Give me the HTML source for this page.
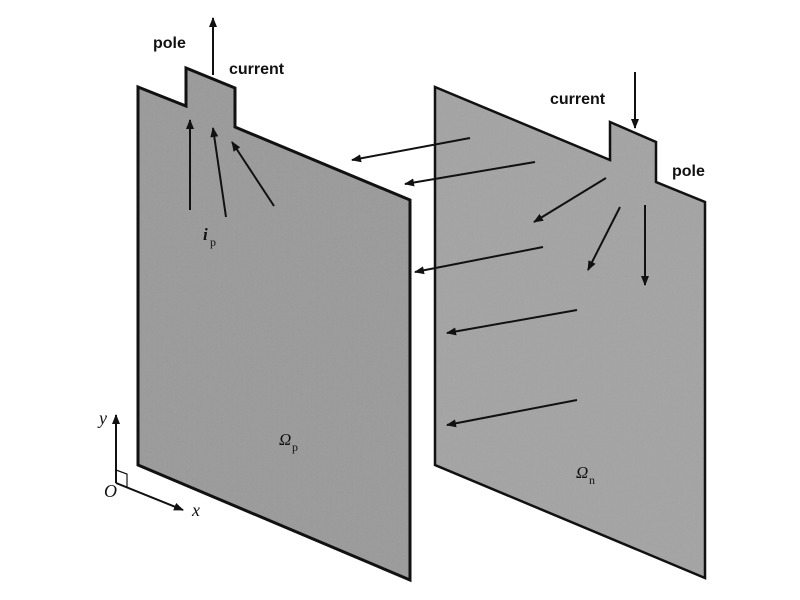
<!DOCTYPE html>
<html><head><style>body{margin:0;background:#fff}svg{display:block}</style></head><body>
<svg width="800" height="600" viewBox="0 0 800 600" xmlns="http://www.w3.org/2000/svg">
<defs>
<filter id="n" x="0" y="0" width="1" height="1"><feTurbulence baseFrequency="0.9" numOctaves="2" seed="3" result="t"/><feColorMatrix in="t" values="0 0 0 0 0.5 0 0 0 0 0.5 0 0 0 0 0.5 0 0 0 0.3 0" result="c"/><feComposite in="c" in2="SourceGraphic" operator="in" result="m"/><feMerge><feMergeNode in="SourceGraphic"/><feMergeNode in="m"/></feMerge></filter>
<marker id="a" markerWidth="10" markerHeight="8" refX="9" refY="4" orient="auto" markerUnits="userSpaceOnUse"><path d="M0,0 L10,4 L0,8 Z" fill="#111"/></marker>
</defs>
<polygon points="138,87 186,106 186,68 235,88 235,127 410,200 410,580 138,465" fill="#999" filter="url(#n)"/>
<polygon points="138,87 186,106 186,68 235,88 235,127 410,200 410,580 138,465" fill="none" stroke="#111" stroke-width="3"/>
<polygon points="435,87 610,160 610,122 656,142 656,182 705,202 705,578 435,465" fill="#a3a3a3" filter="url(#n)"/>
<polygon points="435,87 610,160 610,122 656,142 656,182 705,202 705,578 435,465" fill="none" stroke="#111" stroke-width="2.5"/>
<g stroke="#111" stroke-width="2" fill="none" marker-end="url(#a)">
<line x1="213" y1="75" x2="213" y2="18"/>
<line x1="635" y1="72" x2="635" y2="128"/>
<line x1="190" y1="210" x2="190" y2="120"/>
<line x1="226" y1="217" x2="213" y2="128"/>
<line x1="274" y1="206" x2="232" y2="142"/>
<line x1="470" y1="138" x2="352" y2="160"/>
<line x1="535" y1="162" x2="405" y2="184"/>
<line x1="543" y1="247" x2="415" y2="272"/>
<line x1="577" y1="310" x2="447" y2="333"/>
<line x1="577" y1="400" x2="447" y2="425"/>
<line x1="606" y1="178" x2="534" y2="222"/>
<line x1="620" y1="207" x2="588" y2="270"/>
<line x1="645" y1="205" x2="645" y2="285"/>
<line x1="116" y1="483" x2="116" y2="415"/>
<line x1="116" y1="483" x2="183" y2="510"/>
</g>
<polyline points="116,470 127,474 127,487" stroke="#111" stroke-width="1.2" fill="none"/>
<g font-family="Liberation Sans, sans-serif" font-weight="bold" font-size="16" fill="#111">
<text x="153" y="48">pole</text>
<text x="229" y="74">current</text>
<text x="550" y="104">current</text>
<text x="672" y="176">pole</text>
</g>
<g font-family="Liberation Serif, serif" font-style="italic" fill="#111">
<text x="203" y="240" font-size="17" font-weight="bold">i</text><text x="210" y="246" font-size="12" font-style="normal">p</text>
<text x="279" y="445" font-size="17">Ω</text><text x="292" y="451" font-size="12" font-style="normal">p</text>
<text x="576" y="478" font-size="17">Ω</text><text x="589" y="484" font-size="12" font-style="normal">n</text>
<text x="99" y="424" font-size="18">y</text>
<text x="104" y="497" font-size="18">O</text>
<text x="192" y="516" font-size="18">x</text>
</g>
</svg>
</body></html>
